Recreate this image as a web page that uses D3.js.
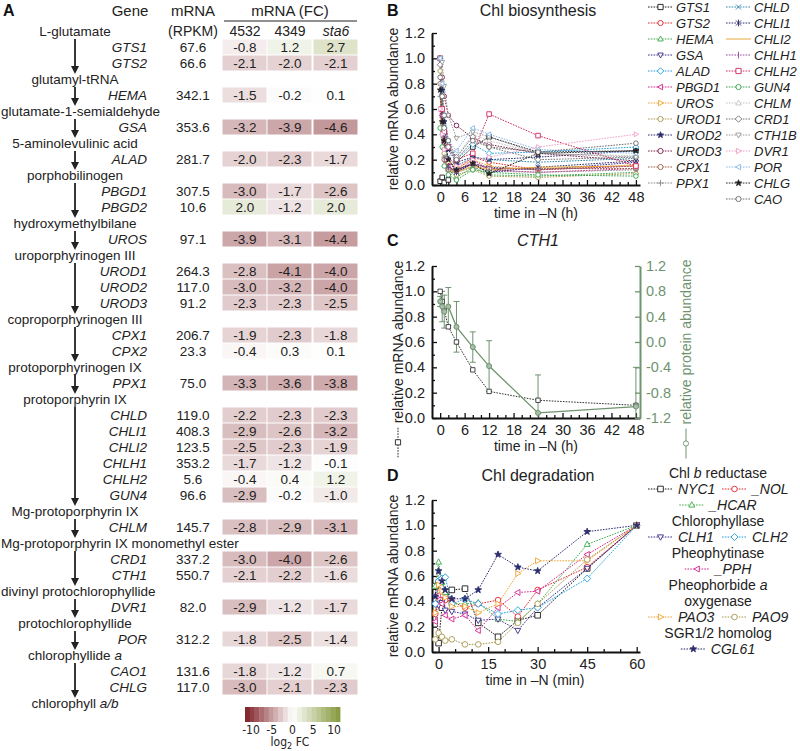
<!DOCTYPE html>
<html><head><meta charset="utf-8">
<script src="https://cdn.jsdelivr.net/npm/d3@7"></script>
<style>body{margin:0;background:#fff} svg{display:block;font-family:"Liberation Sans",Arial,Helvetica,sans-serif}</style>
</head><body><svg id="c" width="800" height="751"></svg>
<script>
// ---------------- DATA ----------------
const compounds = ["L-glutamate","glutamyl-tRNA","glutamate-1-semialdehyde","5-aminolevulinic acid","porphobilinogen","hydroxymethylbilane","uroporphyrinogen III","coproporphyrinogen III","protoporphyrinogen IX","protoporphyrin IX","Mg-protoporphyrin IX","Mg-protoporphyrin IX monomethyl ester","divinyl protochlorophyllide","protochlorophyllide","chlorophyllide *a*","chlorophyll *a/b*"];
const genes = ["GTS1","GTS2","HEMA","GSA","ALAD","PBGD1","PBGD2","UROS","UROD1","UROD2","UROD3","CPX1","CPX2","PPX1","CHLD","CHLI1","CHLI2","CHLH1","CHLH2","GUN4","CHLM","CRD1","CTH1","DVR1","POR","CAO1","CHLG"];
const geneStep = [0,0,1,2,3,4,4,5,6,6,6,7,7,8,9,9,9,9,9,9,10,11,11,12,13,14,14];
const rpkm = [67.6,66.6,342.1,353.6,281.7,307.5,10.6,97.1,264.3,117.0,91.2,206.7,23.3,75.0,119.0,408.3,123.5,353.2,5.6,96.6,145.7,337.2,550.7,82.0,312.2,131.6,117.0];
const fc4532 = [-0.8,-2.1,-1.5,-3.2,-2.0,-3.0,2.0,-3.9,-2.8,-3.0,-2.3,-1.9,-0.4,-3.3,-2.2,-2.9,-2.5,-1.7,-0.4,-2.9,-2.8,-3.0,-2.1,-2.9,-1.8,-1.8,-3.0];
const fc4349 = [1.2,-2.0,-0.2,-3.9,-2.3,-1.7,-1.2,-3.1,-4.1,-3.2,-2.3,-2.3,0.3,-3.6,-2.3,-2.6,-2.3,-1.2,0.4,-0.2,-2.9,-4.0,-2.2,-1.2,-2.5,-1.2,-2.1];
const fcSta6 = [2.7,-2.1,0.1,-4.6,-1.7,-2.6,2.0,-4.4,-4.0,-4.0,-2.5,-1.8,0.1,-3.8,-2.3,-3.2,-1.9,-0.1,1.2,-1.0,-3.1,-2.6,-1.6,-1.7,-1.4,0.7,-2.3];
const fcColumns = ["4532","4349","sta6"];
const colorbarTicks = [-10,-5,0,5,10];

const yTicks = [0,0.2,0.4,0.6,0.8,1.0,1.2];
const yMinorTicks = [0.1,0.3,0.5,0.7,0.9,1.1];
const hourTicks = [0,6,12,18,24,30,36,42,48];
const hourMinorTicks = [2,4,8,10,14,16,20,22,26,28,32,34,38,40,44,46];
const minuteTicks = [0,15,30,45,60];
const minuteMinorTicks = [5,10,20,25,35,40,50,55];
const proteinTicks = [1.2,0.8,0.4,0.0,-0.4,-0.8,-1.2];

// Panel B
const hoursB = [0,0.5,1,2,4,8,12,24,48];
const bGenes = ["GTS1","GTS2","HEMA","GSA","ALAD","PBGD1","UROS","UROD1","UROD2","UROD3","CPX1","PPX1","CHLD","CHLI1","CHLI2","CHLH1","CHLH2","GUN4","CHLM","CRD1","CTH1B","DVR1","POR","CHLG","CAO"];
const bValues = [
 [0.03,0.06,0.02,0.04,0.18,0.30,0.38,0.26,0.27],
 [1.00,0.55,0.35,0.20,0.12,0.22,0.18,0.12,0.15],
 [1.00,0.60,0.30,0.12,0.06,0.14,0.08,0.07,0.10],
 [1.00,0.70,0.40,0.20,0.10,0.17,0.14,0.12,0.18],
 [1.00,0.75,0.45,0.30,0.20,0.32,0.25,0.26,0.30],
 [0.95,0.55,0.28,0.15,0.10,0.20,0.12,0.10,0.13],
 [1.00,0.50,0.30,0.18,0.13,0.20,0.15,0.12,0.16],
 [0.90,0.50,0.25,0.12,0.08,0.12,0.07,0.06,0.09],
 [1.00,0.75,0.50,0.28,0.18,0.22,0.20,0.22,0.27],
 [1.00,0.85,0.70,0.55,0.47,0.37,0.32,0.25,0.19],
 [0.80,0.45,0.20,0.12,0.12,0.17,0.13,0.13,0.13],
 [0.70,0.40,0.22,0.12,0.10,0.14,0.11,0.10,0.12],
 [1.00,0.60,0.35,0.22,0.15,0.22,0.20,0.18,0.21],
 [1.00,0.55,0.30,0.15,0.10,0.17,0.10,0.14,0.19],
 [0.85,0.50,0.25,0.12,0.10,0.15,0.12,0.14,0.15],
 [0.60,0.35,0.20,0.14,0.12,0.17,0.13,0.12,0.15],
 [1.00,0.60,0.42,0.30,0.20,0.25,0.56,0.39,0.15],
 [0.45,0.30,0.15,0.08,0.04,0.12,0.10,0.08,0.07],
 [1.00,0.80,0.55,0.35,0.22,0.40,0.35,0.25,0.23],
 [0.95,0.70,0.45,0.30,0.22,0.38,0.30,0.20,0.22],
 [1.00,0.97,0.78,0.55,0.37,0.42,0.38,0.25,0.22],
 [0.60,0.40,0.28,0.20,0.15,0.20,0.22,0.30,0.40],
 [1.00,0.80,0.55,0.35,0.27,0.45,0.40,0.28,0.25],
 [0.75,0.50,0.35,0.20,0.12,0.17,0.09,0.25,0.27],
 [0.85,0.70,0.55,0.35,0.20,0.35,0.30,0.26,0.33]
];

// Panel C
const hoursC = [0,0.5,1,2,4,8,12,24,48];
const cth1mRNA = [1.00,0.92,0.85,0.72,0.60,0.38,0.21,0.14,0.10];
const cth1Protein = [0.64,0.56,0.48,0.56,0.24,-0.08,-0.38,-1.12,-1.02];
const cth1ProteinErr = [0.08,0.24,0.26,0.30,0.40,0.24,0.40,0.60,0.62];

// Panel D
const minutesD = [-1,0,1,2,4,8,12,18,24,30,45,60];
const dGenes = ["NYC1","_NOL","_HCAR","CLH1","CLH2","_PPH","PAO3","PAO9","CGL61"];
const dValues = [
 [0.52,0.07,0.35,0.44,0.49,0.50,0.23,0.12,0.25,0.29,0.66,1.0],
 [0.30,0.55,0.45,0.41,0.40,0.35,0.38,0.41,0.28,0.49,0.67,1.0],
 [0.52,0.71,0.55,0.47,0.38,0.38,0.39,0.26,0.24,0.38,0.85,1.0],
 [0.38,0.37,0.39,0.33,0.32,0.30,0.25,0.26,0.17,0.35,0.66,1.0],
 [0.38,0.56,0.58,0.59,0.38,0.42,0.38,0.30,0.33,0.35,0.58,1.0],
 [0.24,0.45,0.38,0.29,0.26,0.29,0.17,0.35,0.47,0.48,0.77,1.0],
 [0.31,0.53,0.48,0.43,0.36,0.36,0.31,0.38,0.62,0.72,0.72,1.0],
 [0.10,0.15,0.12,0.09,0.10,0.06,0.06,0.08,0.23,0.38,0.73,1.0],
 [0.44,0.64,0.56,0.49,0.42,0.42,0.49,0.77,0.67,0.64,0.95,1.0]
];
const dGroups = ["Chl *b* reductase","Chlorophyllase","Pheophytinase","Pheophorbide *a*|oxygenase","SGR1/2 homolog"];
const dGroupMembers = [["NYC1","_NOL","_HCAR"],["CLH1","CLH2"],["_PPH"],["PAO3","PAO9"],["CGL61"]];

// ---------------- STYLES ----------------
const bStyle = {
 GTS1:['#1a1a1a','square'], GTS2:['#e3262b','circle'], HEMA:['#3aaa4a','triUp'], GSA:['#3b2e8c','triDown'],
 ALAD:['#20a0dc','diamond'], PBGD1:['#d4238c','triLeft'], UROS:['#f2a12e','triRight'], UROD1:['#a8974e','circle'],
 UROD2:['#2b2d6e','star'], UROD3:['#7b1c48','circle'], CPX1:['#9c5a45','circle'], PPX1:['#8a8a8a','plus'],
 CHLD:['#3088a8','x'], CHLI1:['#2b2d6e','asterisk'], CHLI2:['#e8a838','none'], CHLH1:['#8e4a9a','bar'],
 CHLH2:['#d0285e','square'], GUN4:['#34a04a','circle'], CHLM:['#c4c4c4','triUp'], CRD1:['#767676','diamond'],
 CTH1B:['#9a9a9a','triDown'], DVR1:['#f0a0c8','triRight'], POR:['#88b8e8','triLeft'], CHLG:['#222222','star'],
 CAO:['#6a6a6a','circle']
};
const dStyle = {
 NYC1:['#1a1a1a','square'], _NOL:['#e3262b','circle'], _HCAR:['#3aaa4a','triUp'], CLH1:['#3b2e8c','triDown'],
 CLH2:['#20a0dc','diamond'], _PPH:['#d4238c','triLeft'], PAO3:['#f2a12e','triRight'], PAO9:['#a8974e','circle'],
 CGL61:['#2b2d6e','star']
};
const GREEN = '#6f936f';

// ---------------- HELPERS ----------------
const svg = d3.select('#c');
svg.append('rect').attr('width',800).attr('height',751).attr('fill','#fff');

function markerPath(shape, r){
  switch(shape){
    case 'square': return `M${-r},${-r}h${2*r}v${2*r}h${-2*r}Z`;
    case 'circle': return `M${r},0A${r},${r} 0 1,1 ${-r},0A${r},${r} 0 1,1 ${r},0Z`;
    case 'triUp': return `M0,${-r*1.15}L${r*1.05},${r*0.75}L${-r*1.05},${r*0.75}Z`;
    case 'triDown': return `M0,${r*1.15}L${r*1.05},${-r*0.75}L${-r*1.05},${-r*0.75}Z`;
    case 'triLeft': return `M${-r*1.15},0L${r*0.75},${-r*1.05}L${r*0.75},${r*1.05}Z`;
    case 'triRight': return `M${r*1.15},0L${-r*0.75},${-r*1.05}L${-r*0.75},${r*1.05}Z`;
    case 'diamond': return `M0,${-r*1.25}L${r*1.25},0L0,${r*1.25}L${-r*1.25},0Z`;
    case 'star': { let p=''; for(let i=0;i<10;i++){const a=-Math.PI/2+i*Math.PI/5; const rr=i%2?r*0.5:r*1.25; p+=(i?'L':'M')+(rr*Math.cos(a)).toFixed(2)+','+(rr*Math.sin(a)).toFixed(2);} return p+'Z'; }
    case 'x': return `M${-r},${-r}L${r},${r}M${-r},${r}L${r},${-r}`;
    case 'asterisk': return `M${-r},${-r}L${r},${r}M${-r},${r}L${r},${-r}M0,${-r*1.3}L0,${r*1.3}`;
    case 'plus': return `M${-r*1.2},0H${r*1.2}M0,${-r*1.2}V${r*1.2}`;
    case 'bar': return `M0,${-r*1.3}V${r*1.3}`;
    default: return '';
  }
}
function markerFill(shape,color){
  if (shape==='star') return color;
  if (['x','asterisk','plus','bar','none'].includes(shape)) return 'none';
  return '#fff';
}
function drawMarker(g, x, y, shape, color, r){
  const p = markerPath(shape, r);
  if(!p) return;
  g.append('path').attr('d',p).attr('transform',`translate(${x},${y})`)
   .attr('fill',markerFill(shape,color)).attr('stroke',color).attr('stroke-width',0.9);
}
function richText(sel, str){
  str.split('*').forEach((part,i)=>{ if(part) sel.append('tspan').attr('font-style', i%2?'italic':null).text(part); });
}
function sample(g, x1, x2, y, color, shape, dashed, r){
  g.append('line').attr('x1',x1).attr('x2',x2).attr('y1',y).attr('y2',y)
   .attr('stroke',color).attr('stroke-width',1).attr('stroke-dasharray', dashed?'1.6,1.2':null);
  drawMarker(g,(x1+x2)/2,y,shape,color,r);
}
function axes(g, x, y, xt, xmt, yt, ymt, fmtX){
  const x0 = x.range()[0], yb = y.range()[0];
  const ax = g.append('g').attr('transform',`translate(0,${yb})`)
    .call(d3.axisBottom(x).tickValues(xt).tickSize(-5).tickSizeOuter(0).tickPadding(7).tickFormat(fmtX));
  const axm = g.append('g').attr('transform',`translate(0,${yb})`)
    .call(d3.axisBottom(x).tickValues(xmt).tickSize(-3).tickSizeOuter(0).tickFormat(''));
  axm.select('.domain').remove();
  const ay = g.append('g').attr('transform',`translate(${x0},0)`)
    .call(d3.axisLeft(y).tickValues(yt).tickSize(-5).tickSizeOuter(0).tickPadding(7).tickFormat(d=>d.toFixed(1)));
  const aym = g.append('g').attr('transform',`translate(${x0},0)`)
    .call(d3.axisLeft(y).tickValues(ymt).tickSize(-3).tickSizeOuter(0).tickFormat(''));
  aym.select('.domain').remove();
  [ax,ay,axm,aym].forEach(a=>{
    a.attr('font-family',null).attr('font-size',14.5);
    a.selectAll('.domain').attr('stroke','#111').attr('stroke-width',2);
    a.selectAll('.tick line').attr('stroke','#111').attr('stroke-width',1.3);
    a.selectAll('.tick text').attr('fill','#222');
  });
}

// ---------------- PANEL A ----------------
const A = svg.append('g').attr('font-size',13.5).attr('fill','#222');
const rowY = r => 31 + 16*r;
const geneRight = 147, rpkmX = 193, colX = [245,290,336], cellW = 45;
const fcColor = d3.scaleLinear().domain([-10,0,10]).range(['#7d1e24','#ffffff','#84983a']);

A.append('text').attr('x',3).attr('y',16).attr('font-weight','bold').attr('font-size',16).attr('fill','#111').text('A');
A.append('text').attr('x',130).attr('y',16).attr('text-anchor','middle').attr('font-size',15).text('Gene');
A.append('text').attr('x',rpkmX).attr('y',16).attr('text-anchor','middle').attr('font-size',15).text('mRNA');
A.append('text').attr('x',290).attr('y',16).attr('text-anchor','middle').attr('font-size',15).text('mRNA (FC)');
A.append('line').attr('x1',224).attr('x2',357).attr('y1',21).attr('y2',21).attr('stroke','#222').attr('stroke-width',1.2);
A.append('text').attr('x',rpkmX).attr('y',rowY(0)+5).attr('text-anchor','middle').attr('font-size',14).text('(RPKM)');
fcColumns.forEach((c,j)=>A.append('text').attr('x',colX[j]).attr('y',rowY(0)+5).attr('text-anchor','middle').attr('font-size',14)
  .attr('font-style', c==='sta6'?'italic':null).text(c));

let r = 0; const compRow = [];
const geneRows = [];
compounds.forEach((c,i)=>{
  compRow.push(r++);
  genes.forEach((g,gi)=>{ if(geneStep[gi]===i) geneRows[gi]=r++; });
});
compounds.forEach((c,i)=>{
  const t = A.append('text').attr('y',rowY(compRow[i])+5).attr('text-anchor','middle').attr('x',75);
  richText(t,c);
  const w = t.node().getComputedTextLength();
  if (75 - w/2 < 1) t.attr('text-anchor','start').attr('x',1);
});
for(let i=0;i<compounds.length-1;i++){
  const y1 = rowY(compRow[i])+8, y2 = rowY(compRow[i+1])-5;
  A.append('line').attr('x1',75).attr('x2',75).attr('y1',y1).attr('y2',y2-6).attr('stroke','#222').attr('stroke-width',1.8);
  A.append('path').attr('d',`M75,${y2}L71,${y2-8}L79,${y2-8}Z`).attr('fill','#222');
}
const fcAll = [fc4532, fc4349, fcSta6];
genes.forEach((g,gi)=>{
  const y = rowY(geneRows[gi]);
  A.append('text').attr('x',geneRight).attr('y',y+5).attr('text-anchor','end').attr('font-style','italic').text(g);
  A.append('text').attr('x',rpkmX).attr('y',y+5).attr('text-anchor','middle').text(rpkm[gi].toFixed(1));
  fcAll.forEach((arr,j)=>{
    A.append('rect').attr('x',colX[j]-cellW/2).attr('y',y-7.5).attr('width',cellW-1).attr('height',15).attr('fill',fcColor(arr[gi]));
    A.append('text').attr('x',colX[j]).attr('y',y+5).attr('text-anchor','middle').text(arr[gi].toFixed(1));
  });
});
// colorbar
const cbX = d3.scaleLinear().domain([-10,10]).range([245,340]);
const nb = 20;
for(let k=0;k<nb;k++){
  const v0 = -10 + k*20/nb, v1 = v0 + 20/nb;
  A.append('rect').attr('x',cbX(v0)).attr('y',707).attr('width',cbX(v1)-cbX(v0)+0.4).attr('height',15).attr('fill',fcColor((v0+v1)/2));
}
const cbL = d3.scaleLinear().domain([-10,10]).range([251,334]);
colorbarTicks.forEach(v=>A.append('text').attr('x',cbL(v)).attr('y',734).attr('text-anchor','middle').attr('font-size',12)
  .attr('font-family','"DejaVu Sans Condensed","DejaVu Sans",sans-serif').text(v<0?'-'+Math.abs(v):v));
const lg = A.append('text').attr('x',290).attr('y',746).attr('text-anchor','middle').attr('font-size',12)
  .attr('font-family','"DejaVu Sans Condensed","DejaVu Sans",sans-serif');
lg.append('tspan').text('log');
lg.append('tspan').attr('font-size',9).attr('dy',3).text('2');
lg.append('tspan').attr('dy',-3).text(' FC');

// ---------------- PANEL B ----------------
const xH = d3.scaleLinear().domain([-2,49]).range([432,640]);
const B = svg.append('g').attr('fill','#222');
const yB = d3.scaleLinear().domain([0,1.2]).range([185,33]);
B.append('text').attr('x',387).attr('y',16).attr('font-weight','bold').attr('font-size',16).attr('fill','#111').text('B');
B.append('text').attr('x',538).attr('y',16).attr('text-anchor','middle').attr('font-size',16).text('Chl biosynthesis');
axes(B, xH, yB, hourTicks, hourMinorTicks, yTicks, yMinorTicks, d=>d);
B.append('text').attr('x',536).attr('y',218).attr('text-anchor','middle').attr('font-size',14).text('time in \u2013N (h)');
B.append('text').attr('transform',`translate(398,${(185+33)/2}) rotate(-90)`).attr('text-anchor','middle').attr('font-size',14).text('relative mRNA abundance');
const lineB = d3.line().x((d,i)=>xH(hoursB[i])).y(d=>yB(d));
bGenes.forEach((g,k)=>{
  const [col] = bStyle[g];
  B.append('path').attr('d',lineB(bValues[k])).attr('fill','none').attr('stroke',col).attr('stroke-width',1)
   .attr('stroke-dasharray', g==='CHLI2'?null:'1.6,1.2');
});
bGenes.forEach((g,k)=>{
  const [col,sh] = bStyle[g];
  bValues[k].forEach((v,i)=>drawMarker(B,xH(hoursB[i]),yB(v),sh,col,2.3));
});
// legend B
bGenes.forEach((g,k)=>{
  const c = k<12?0:1, rr = k<12?k:k-12;
  const x1 = c? 726:648, y = 7 + 16*rr;
  const [col,sh] = bStyle[g];
  sample(B, x1, x1+25, y, col, sh, g!=='CHLI2', 2.6);
  B.append('text').attr('x',x1+28).attr('y',y+5).attr('font-size',13).attr('font-style','italic').text(g);
});

// ---------------- PANEL C ----------------
const C = svg.append('g').attr('fill','#222');
const yC = d3.scaleLinear().domain([0,1.2]).range([418,266]);
const yCR = d3.scaleLinear().domain([-1.2,1.2]).range([418,266]);
C.append('text').attr('x',387).attr('y',246).attr('font-weight','bold').attr('font-size',16).attr('fill','#111').text('C');
C.append('text').attr('x',538).attr('y',246).attr('text-anchor','middle').attr('font-size',16).attr('font-style','italic').text('CTH1');
axes(C, xH, yC, hourTicks, hourMinorTicks, yTicks, yMinorTicks, d=>d);
const ar = C.append('g').attr('transform','translate(640,0)')
  .call(d3.axisRight(yCR).tickValues(proteinTicks).tickSize(-5).tickSizeOuter(0).tickPadding(6).tickFormat(d=>d<0?'-'+Math.abs(d).toFixed(1):d.toFixed(1)));
ar.attr('font-family',null).attr('font-size',14.5);
ar.select('.domain').attr('stroke',GREEN).attr('stroke-width',2);
ar.selectAll('.tick line').attr('stroke',GREEN).attr('stroke-width',1.3);
ar.selectAll('.tick text').attr('fill',GREEN);
C.append('text').attr('x',536).attr('y',451).attr('text-anchor','middle').attr('font-size',14).text('time in \u2013N (h)');
function ylabelWithSample(g, x, yc, txt, color, shape, dashed){
  const gg = g.append('g').attr('transform',`translate(${x},${yc}) rotate(-90)`);
  const t = gg.append('text').attr('x',0).attr('y',5).attr('text-anchor','middle').attr('font-size',14).attr('fill',color).text(txt);
  const w = t.node().getComputedTextLength();
  sample(gg, -w/2-34, -w/2-4, 0, color, shape, dashed, 2.6);
}
ylabelWithSample(C, 398, (418+266)/2, 'relative mRNA abundance', '#222', 'square', true);
ylabelWithSample(C, 686, (418+266)/2, 'relative protein abundance', GREEN, 'circle', false);
C.append('path').attr('d',d3.line().x((d,i)=>xH(hoursC[i])).y(d=>yC(d))(cth1mRNA)).attr('fill','none').attr('stroke','#333').attr('stroke-width',1).attr('stroke-dasharray','1.6,1.2');
C.append('path').attr('d',d3.line().x((d,i)=>xH(hoursC[i])).y(d=>yCR(d))(cth1Protein)).attr('fill','none').attr('stroke',GREEN).attr('stroke-width',1.3);
cth1Protein.forEach((v,i)=>{
  const x = xH(hoursC[i]);
  const top = yCR(Math.min(1.2, v+cth1ProteinErr[i])), bot = yCR(Math.max(-1.2, v-cth1ProteinErr[i]));
  C.append('line').attr('x1',x).attr('x2',x).attr('y1',top).attr('y2',bot).attr('stroke',GREEN).attr('stroke-width',1);
  C.append('line').attr('x1',x-3).attr('x2',x+3).attr('y1',top).attr('y2',top).attr('stroke',GREEN).attr('stroke-width',1);
  if (v-cth1ProteinErr[i] > -1.2) C.append('line').attr('x1',x-3).attr('x2',x+3).attr('y1',bot).attr('y2',bot).attr('stroke',GREEN).attr('stroke-width',1);
});
cth1mRNA.forEach((v,i)=>drawMarker(C,xH(hoursC[i]),yC(v),'square','#333',2.2));
cth1Protein.forEach((v,i)=>{
  C.append('circle').attr('cx',xH(hoursC[i])).attr('cy',yCR(v)).attr('r',2.5).attr('fill','#a9bfa9').attr('stroke',GREEN).attr('stroke-width',1);
});

// ---------------- PANEL D ----------------
const D = svg.append('g').attr('fill','#222');
const xM = d3.scaleLinear().domain([-2,61]).range([432,640]);
const yD = d3.scaleLinear().domain([0,1.2]).range([652,500]);
D.append('text').attr('x',387).attr('y',481).attr('font-weight','bold').attr('font-size',16).attr('fill','#111').text('D');
D.append('text').attr('x',538).attr('y',481).attr('text-anchor','middle').attr('font-size',16).text('Chl degradation');
axes(D, xM, yD, minuteTicks, minuteMinorTicks, yTicks, yMinorTicks, d=>d);
D.append('text').attr('x',535).attr('y',685).attr('text-anchor','middle').attr('font-size',14).text('time in \u2013N (min)');
D.append('text').attr('transform',`translate(398,${(652+500)/2}) rotate(-90)`).attr('text-anchor','middle').attr('font-size',14).text('relative mRNA abundance');
const lineD = d3.line().x((d,i)=>xM(minutesD[i])).y(d=>yD(d));
dGenes.forEach((g,k)=>{
  const [col] = dStyle[g];
  D.append('path').attr('d',lineD(dValues[k])).attr('fill','none').attr('stroke',col).attr('stroke-width',1).attr('stroke-dasharray','1.6,1.2');
});
dGenes.forEach((g,k)=>{
  const [col,sh] = dStyle[g];
  dValues[k].forEach((v,i)=>drawMarker(D,xM(minutesD[i]),yD(v),sh,col,2.8));
});
// legend D
const LC = 718;
function textWidth(str, size, italic){
  const t = svg.append('text').attr('font-size',size).attr('font-style',italic?'italic':null).text(str);
  const w = t.node().getComputedTextLength(); t.remove(); return w;
}
function legendItem(x1, y, g){
  const [col,sh] = dStyle[g];
  sample(D, x1, x1+25, y, col, sh, true, 2.8);
  D.append('text').attr('x',x1+30).attr('y',y+5).attr('font-size',14).attr('font-style','italic').text(g);
}
let ly = 478;
dGroups.forEach((grp,gi)=>{
  grp.split('|').forEach(line=>{
    const t = D.append('text').attr('x',LC).attr('y',ly).attr('text-anchor','middle').attr('font-size',14);
    richText(t,line); ly += 16;
  });
  const mem = dGroupMembers[gi];
  for(let m=0;m<mem.length;m+=2){
    if (m+1<mem.length){
      legendItem(648, ly-5, mem[m]);
      legendItem(722, ly-5, mem[m+1]);
    } else {
      const w = textWidth(mem[m],14,true);
      legendItem(LC-(30+w)/2, ly-5, mem[m]);
    }
    ly += 16;
  }
});
</script></body></html>
